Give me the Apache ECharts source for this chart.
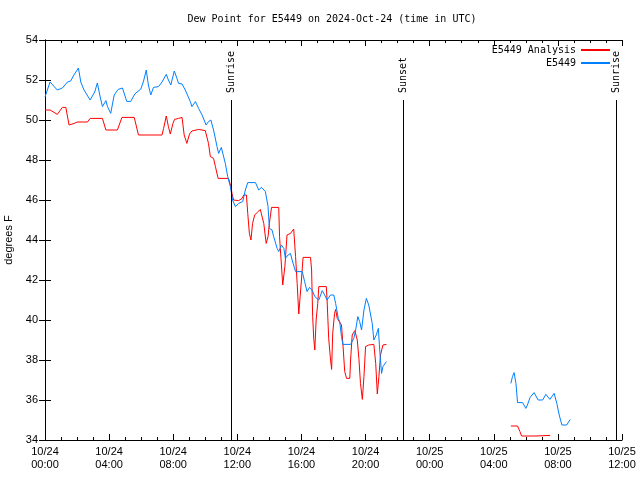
<!DOCTYPE html>
<html><head><meta charset="utf-8">
<script src="https://cdn.jsdelivr.net/npm/echarts@6/dist/echarts.min.js"></script>
<style>html,body{margin:0;padding:0;background:#fff}#c{width:640px;height:480px}</style>
</head><body><div id="c"></div>
<script>
// minutes since 2024-10-24 00:00 UTC
var blueTimes = [0,19,46,65,84,96,106,125,134,146,169,186,196,205,215,228,234,246,259,274,290,306,321,336,359,369,379,387,396,406,425,438,454,462,471,484,494,500,513,525,544,550,563,575,588,603,612,621,631,644,650,660,666,675,684,694,702,713,725,740,750,759,788,800,810,815,825,835,840,850,856,869,875,885,894,900,910,919,925,938,963,972,981,990,1000,1010,1025,1038,1047,1056,1069,1081,1088,1098,1103,1110,1115,1144,1156,1163,1171,1178,1185,1194,1203,1212,1219,1225,1231,1240,1248,1253,1260,1265,1278,
  1500,
  1744,1750,1756,1763,1769,1788,1800,1806,1816,1831,1846,1863,1875,1890,1906,1916,1925,1935,1953,1966];
var blueVals = [51.15,51.9,51.5,51.6,51.9,51.95,52.2,52.6,51.9,51.5,51.0,51.4,51.85,51.25,50.67,50.97,50.67,50.33,51.25,51.53,51.6,50.93,50.93,51.3,51.55,51.95,52.5,51.75,51.25,51.63,51.67,51.9,52.28,52.0,51.75,52.45,52.08,51.83,51.8,51.5,50.92,50.67,50.92,50.58,50.25,49.75,49.92,50.0,49.5,48.67,48.33,48.63,48.6,47.83,47.17,46.67,46.0,45.67,45.83,45.92,46.5,46.87,46.87,46.5,46.63,46.7,46.42,45.67,44.58,44.5,44.17,43.58,43.42,43.75,43.58,43.08,43.25,43.33,43.0,42.42,42.42,41.92,41.42,41.63,41.5,41.17,41.0,41.47,41.25,41.0,41.25,41.25,40.83,40.08,39.92,39.17,38.78,38.78,39.08,39.5,40.17,39.92,39.5,40.5,41.08,40.75,40.25,39.83,39.0,39.25,39.58,38.5,37.33,37.67,37.92,
  null,
  36.83,37.17,37.37,36.83,35.87,35.87,35.58,35.75,36.13,36.37,36.0,36.0,36.28,36.03,36.33,35.83,35.25,34.75,34.75,35.03];
var redTimes = [0,19,34,46,65,78,90,109,121,159,169,215,228,271,288,334,350,438,444,454,462,469,479,485,500,513,521,531,541,550,575,600,612,619,631,638,648,687,696,700,706,725,738,744,754,759,765,771,777,785,794,806,813,819,828,835,840,848,875,878,890,898,906,919,931,938,944,950,960,966,994,998,1002,1006,1010,1015,1021,1025,1053,1056,1062,1069,1073,1077,1084,1088,1094,1100,1110,1115,1122,1129,1141,1144,1150,1160,1169,1175,1181,1188,1194,1200,1212,1231,1238,1244,1250,1256,1265,1278,
  1500,
  1744,1769,1778,1784,1838,1841,1891];
var redVals = [50.5,50.5,50.38,50.28,50.63,50.63,49.75,49.83,49.9,49.9,50.08,50.08,49.5,49.5,50.13,50.13,49.25,49.25,49.58,50.2,49.67,49.3,49.83,50.03,50.08,50.13,49.25,48.83,49.3,49.45,49.53,49.47,48.83,48.17,48.08,47.67,47.08,47.08,46.67,46.33,46.0,45.97,46.08,46.25,46.25,45.33,44.33,44.0,44.83,45.25,45.37,45.53,45.63,44.83,43.83,44.17,44.83,45.63,45.63,44.17,41.75,42.67,44.25,44.33,44.55,43.17,41.83,40.3,42.0,43.13,43.13,42.5,40.17,39.08,38.5,40.0,40.83,41.67,41.67,41.0,39.08,38.0,37.53,39.33,40.33,40.53,40.08,40.0,39.75,38.83,37.42,37.08,37.08,38.0,39.25,39.47,39.0,38.08,36.83,36.03,37.17,38.67,38.75,38.78,37.83,36.3,37.17,38.25,38.75,38.78,
  null,
  34.7,34.7,34.42,34.2,34.2,34.23,34.23];
var xTickLabels = ['10/24\n00:00','10/24\n04:00','10/24\n08:00','10/24\n12:00','10/24\n16:00','10/24\n20:00','10/25\n00:00','10/25\n04:00','10/25\n08:00','10/25\n12:00'];
var sunEvents = [{t:699, name:'Sunrise'},{t:1340, name:'Sunset'},{t:2139, name:'Sunrise'}];
var seriesNames = ['E5449 Analysis','E5449'];

function pairs(ts, vs){ return ts.map(function(t,i){ return [t, vs[i]===null ? '-' : vs[i]]; }); }
var mono = '"DejaVu Sans Mono", "Liberation Mono", monospace';
var sans = '"Liberation Sans", Arial, sans-serif';

var chart = echarts.init(document.getElementById('c'), null, {renderer:'canvas'});
var axisCommon = {
  min: 0, max: 2160, interval: 240, type: 'value',
  axisLine: {show: true, lineStyle: {color: '#000', width: 1}},
  splitLine: {show: false},
  axisTick: {show: true, inside: true, length: 6, lineStyle: {color: '#000'}},
  minorTick: {show: true, splitNumber: 4, length: 3, lineStyle: {color: '#000'}}
};
var option = {
  animation: false,
  backgroundColor: '#fff',
  grid: {left: 45, right: 18, top: 40, bottom: 40, containLabel: false, outerBoundsMode: 'none'},
  xAxis: [
    Object.assign({}, axisCommon, {position: 'bottom',
      axisLabel: {show: true, color: '#000', fontFamily: sans, fontSize: 11, lineHeight: 13, margin: 5,
        formatter: function(v){ return xTickLabels[Math.round(v/240)]; }}}),
    Object.assign({}, axisCommon, {position: 'top', axisLabel: {show: false}})
  ],
  yAxis: [
    {type: 'value', min: 34, max: 54, interval: 2, position: 'left',
     name: 'degrees F', nameLocation: 'middle', nameGap: 29, nameRotate: 90,
     nameTextStyle: {color: '#000', fontFamily: sans, fontSize: 11},
     axisLine: {show: true, lineStyle: {color: '#000'}}, splitLine: {show: false},
     axisTick: {show: true, inside: true, length: 6, lineStyle: {color: '#000'}},
     axisLabel: {color: '#000', fontFamily: sans, fontSize: 11, margin: 7}},
    {type: 'value', min: 34, max: 54, interval: 2, position: 'right',
     axisLine: {show: true, lineStyle: {color: '#000'}}, splitLine: {show: false},
     axisTick: {show: true, inside: true, length: 6, lineStyle: {color: '#000'}},
     axisLabel: {show: false}}
  ],
  legend: {
    orient: 'vertical', right: 30, top: 45, padding: 0, align: 'right', itemWidth: 29, itemHeight: 2, itemGap: 3,
    icon: 'rect',
    textStyle: {color: '#000', fontFamily: mono, fontSize: 10, padding: [0, 0, 0, 0]},
    data: seriesNames
  },
  series: [
    {name: seriesNames[0], type: 'line', data: pairs(redTimes, redVals), showSymbol: false, symbol: 'none',
     connectNulls: false, lineStyle: {color: '#ff0000', width: 1}, itemStyle: {color: '#ff0000'}, z: 3,
     markLine: {silent: true, symbol: 'none', animation: false,
       lineStyle: {color: '#000', width: 1, type: 'solid'}, label: {show: false},
       data: sunEvents.map(function(e){ return [{coord: [e.t, 34]}, {coord: [e.t, 51]}]; })}},
    {name: seriesNames[1], type: 'line', data: pairs(blueTimes, blueVals), showSymbol: false, symbol: 'none',
     connectNulls: false, lineStyle: {color: '#0080ff', width: 1}, itemStyle: {color: '#0080ff'}, z: 4}
  ]
};
chart.setOption(option);
var gr = [{type: 'text', x: 332, y: 19, style: {text: 'Dew Point for E5449 on 2024-Oct-24 (time in UTC)', fill: '#000', font: '10px ' + mono, textAlign: 'center', textVerticalAlign: 'middle'}}];
sunEvents.forEach(function(e){
  var px = chart.convertToPixel({xAxisIndex: 0}, e.t);
  gr.push({type: 'text', x: px, y: 93, rotation: Math.PI/2,
    style: {text: e.name, fill: '#000', font: '10px ' + mono, textAlign: 'left', textVerticalAlign: 'middle'}});
});
chart.setOption({graphic: gr});
</script></body></html>
